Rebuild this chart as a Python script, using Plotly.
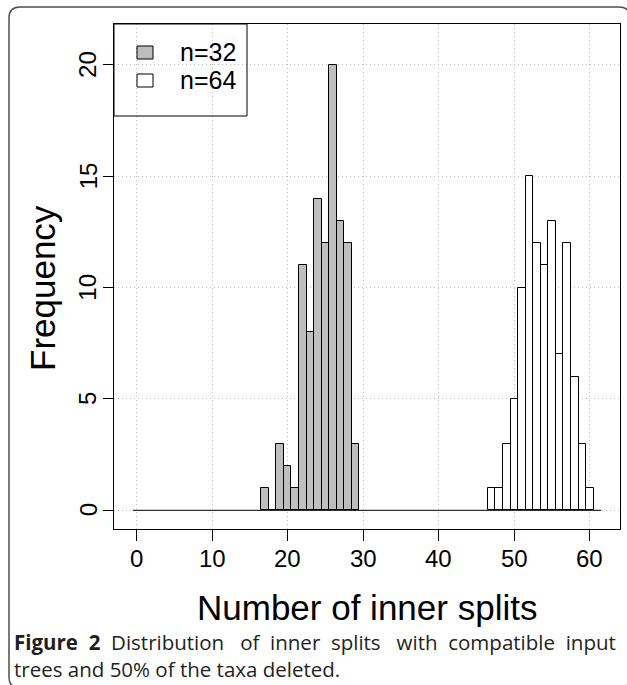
import plotly.graph_objects as go

# ---- data ----
n32_splits = [17, 18, 19, 20, 21, 22, 23, 24, 25, 26, 27, 28, 29]
n32_counts = [1, 0, 3, 2, 1, 11, 8, 14, 12, 20, 13, 12, 3]
n64_splits = [47, 48, 49, 50, 51, 52, 53, 54, 55, 56, 57, 58, 59, 60]
n64_counts = [1, 1, 3, 5, 10, 15, 12, 11, 13, 7, 12, 6, 3, 1]
hist_range = [-0.5, 61.5]          # outer breaks of the histograms
x_ticks = [0, 10, 20, 30, 40, 50, 60]
y_ticks = [0, 5, 10, 15, 20]
series_names = ["n=32", "n=64"]
series_fill = ["#BEBEBE", "#FFFFFF"]

W, H = 627, 685
L, R, T, B = 114, 620, 24, 529   # plot box in pixels


def px(xp):
    return (xp - L) / (R - L)


def py(yp):
    return (B - yp) / (B - T)


fig = go.Figure()

# zero line spanning all (empty) bins
fig.add_trace(go.Scatter(x=hist_range, y=[0, 0], mode="lines",
                         line=dict(color="black", width=1),
                         hoverinfo="skip", showlegend=False))

for xs, ys, name, col in [(n32_splits, n32_counts, series_names[0], series_fill[0]),
                          (n64_splits, n64_counts, series_names[1], series_fill[1])]:
    fig.add_trace(go.Bar(x=xs, y=ys, width=1, name=name,
                         marker=dict(color=col, line=dict(color="black", width=1)),
                         showlegend=False))

font_main = "Liberation Sans, Arial, sans-serif"
grid = dict(showgrid=True, gridcolor="#BDBDBD", griddash="1px,3px", gridwidth=1)

fig.update_layout(
    width=W, height=H,
    margin=dict(l=L, r=W - R, t=T, b=H - B, pad=0),
    paper_bgcolor="white", plot_bgcolor="white",
    barmode="overlay", bargap=0,
    font=dict(family=font_main, color="black"),
    xaxis=dict(range=[-2.98, 63.98], tickvals=x_ticks, showticklabels=False,
               showline=True, mirror=True, linecolor="black", linewidth=1,
               ticks="outside", ticklen=11, tickcolor="black", tickwidth=1,
               zeroline=False, **grid),
    yaxis=dict(range=[-0.84, 21.84], tickvals=y_ticks, showticklabels=False,
               showline=True, mirror=True, linecolor="black", linewidth=1,
               ticks="outside", ticklen=10, tickcolor="black", tickwidth=1,
               zeroline=False, **grid),
)

shapes = []
annotations = []

# tick labels (R style: y labels parallel to the axis)
for v in x_ticks:
    annotations.append(dict(xref="x", yref="paper", x=v, y=py(558),
                            xanchor="center", yanchor="middle", showarrow=False,
                            text=str(v), font=dict(size=24, family=font_main, color="black")))
for v in y_ticks:
    annotations.append(dict(xref="paper", yref="y", x=px(88), y=v,
                            xanchor="center", yanchor="middle", showarrow=False, textangle=-90,
                            text=str(v), font=dict(size=24, family=font_main, color="black")))

# legend box
shapes.append(dict(type="rect", xref="paper", yref="paper",
                   x0=px(114), x1=px(247), y0=py(116), y1=py(24),
                   line=dict(color="black", width=1), fillcolor="rgba(0,0,0,0)"))
for i, (name, col) in enumerate(zip(series_names, series_fill)):
    yc = 52 + i * 28
    shapes.append(dict(type="rect", xref="paper", yref="paper",
                       x0=px(137), x1=px(153), y0=py(yc + 7), y1=py(yc - 6),
                       line=dict(color="black", width=1), fillcolor=col))
    annotations.append(dict(xref="paper", yref="paper", x=px(178), y=py(yc),
                            xanchor="left", yanchor="middle", showarrow=False,
                            text=name, font=dict(size=25, family=font_main, color="black")))

# axis titles
annotations.append(dict(xref="paper", yref="paper", x=0.5, y=py(607),
                        xanchor="center", yanchor="middle", showarrow=False,
                        text="Number of inner splits",
                        font=dict(size=35, family=font_main, color="black")))
annotations.append(dict(xref="paper", yref="paper", x=px(42), y=py(288),
                        xanchor="center", yanchor="middle", showarrow=False, textangle=-90,
                        text="Frequency",
                        font=dict(size=35, family=font_main, color="black")))

# caption (first line justified with widened word gaps)
cap_font = dict(size=20.5, family="Open Sans, Noto Sans, sans-serif", color="#231F20")
gap = "\u00a0 "
gap2 = "\u00a0\u00a0 "
line1 = (f"<b>Figure{gap}2</b>{gap}Distribution{gap2}of{gap}inner{gap}splits"
         f"{gap2}with{gap}compatible{gap}input")
annotations.append(dict(xref="paper", yref="paper", x=px(12), y=py(642),
                        xanchor="left", yanchor="middle", showarrow=False,
                        text=line1, font=cap_font))
annotations.append(dict(xref="paper", yref="paper", x=px(12), y=py(669),
                        xanchor="left", yanchor="middle", showarrow=False,
                        text="trees and 50% of the taxa deleted.", font=cap_font))

# rounded outer border
x0, x1, y0, y1, r = 9, 630, 7, 688, 11
path = (f"M {px(x0 + r)},{py(y0)} L {px(x1 - r)},{py(y0)} "
        f"Q {px(x1)},{py(y0)} {px(x1)},{py(y0 + r)} "
        f"L {px(x1)},{py(y1 - r)} Q {px(x1)},{py(y1)} {px(x1 - r)},{py(y1)} "
        f"L {px(x0 + r)},{py(y1)} Q {px(x0)},{py(y1)} {px(x0)},{py(y1 - r)} "
        f"L {px(x0)},{py(y0 + r)} Q {px(x0)},{py(y0)} {px(x0 + r)},{py(y0)} Z")
shapes.append(dict(type="path", xref="paper", yref="paper", path=path,
                   line=dict(color="#4D4D4D", width=1.5), fillcolor="rgba(0,0,0,0)",
                   layer="above"))

fig.update_layout(shapes=shapes, annotations=annotations)
fig.write_html("out.html", config={"displayModeBar": False},
               post_script="document.body.style.margin='0px';")
